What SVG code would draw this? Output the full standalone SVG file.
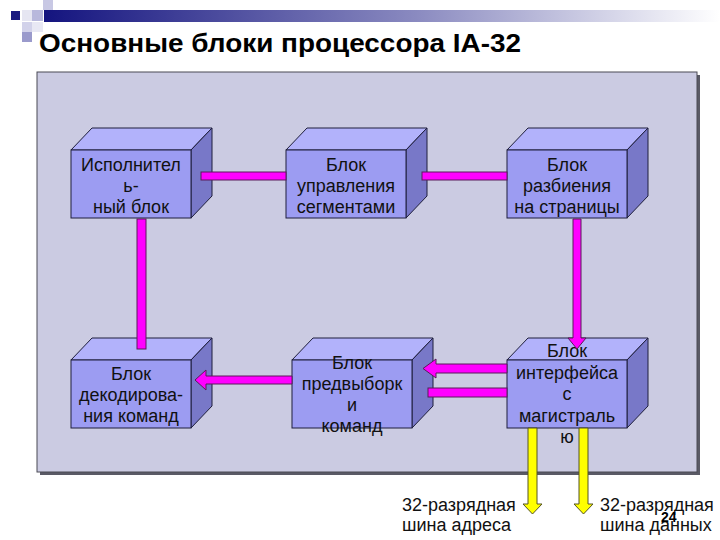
<svg xmlns="http://www.w3.org/2000/svg" width="720" height="540" viewBox="0 0 720 540">
<defs>
<linearGradient id="bar" x1="0" y1="0" x2="1" y2="0">
<stop offset="0" stop-color="#14147f"/>
<stop offset="0.55" stop-color="#8a8ac0"/>
<stop offset="1" stop-color="#ffffff"/>
</linearGradient>
<style>
.front{fill:#9c9cf2;stroke:#1e1e3c;stroke-width:1}
.top{fill:#b2b2fb;stroke:#1e1e3c;stroke-width:1}
.side{fill:#7878c8;stroke:#1e1e3c;stroke-width:1}
.t{font-family:"Liberation Sans",Arial,sans-serif;font-size:18px;fill:#111;text-anchor:middle}
.lab{font-family:"Liberation Sans",Arial,sans-serif;font-size:18px;fill:#111}
.mag{fill:#ff00ff;stroke:#5a1a5a;stroke-width:1}
.yel{fill:#ffff00;stroke:#555522;stroke-width:1}
</style>
</defs>
<rect width="720" height="540" fill="#ffffff"/>
<!-- header decoration -->
<rect x="44" y="10" width="676" height="12" fill="url(#bar)"/>
<rect x="11" y="11" width="9" height="9" fill="#1a1a80"/>
<rect x="22" y="10" width="10" height="11" fill="#e6e6f2"/>
<rect x="32" y="10" width="11" height="11" fill="#b8b8dc"/>
<rect x="43" y="0" width="10" height="10" fill="#c8c8e4"/>
<rect x="22" y="22" width="10" height="10" fill="#d2d2ea"/>
<rect x="32" y="22" width="11" height="10" fill="#e8e8f4"/>
<rect x="22" y="32" width="10" height="10" fill="#9a9acc"/>
<text x="39" y="52" font-family="&quot;Liberation Sans&quot;,Arial,sans-serif" font-size="26" font-weight="bold" fill="#000" textLength="482" lengthAdjust="spacingAndGlyphs">Основные блоки процессора IA-32</text>
<!-- panel -->
<rect x="40" y="75" width="660" height="400" fill="#5a5a66"/>
<rect x="37" y="72" width="660" height="400" fill="#cbcbe2" stroke="#4a4a55" stroke-width="1"/>
<!-- boxes -->
<g id="box1">
<polygon class="top" points="71,150 92,128 212,128 191,150"/>
<polygon class="side" points="191,150 212,128 212,196 191,218"/>
<rect class="front" x="71" y="150" width="120" height="68"/>
<text class="t" x="131" y="171">Исполнител</text>
<text class="t" x="131" y="192">ь-</text>
<text class="t" x="131" y="213">ный блок</text>
</g>
<g id="box2">
<polygon class="top" points="286,150 307,128 427,128 406,150"/>
<polygon class="side" points="406,150 427,128 427,196 406,218"/>
<rect class="front" x="286" y="150" width="120" height="68"/>
<text class="t" x="346" y="171">Блок</text>
<text class="t" x="346" y="192">управления</text>
<text class="t" x="346" y="213">сегментами</text>
</g>
<g id="box3">
<polygon class="top" points="507,150 528,128 648,128 627,150"/>
<polygon class="side" points="627,150 648,128 648,196 627,218"/>
<rect class="front" x="507" y="150" width="120" height="68"/>
<text class="t" x="567" y="171">Блок</text>
<text class="t" x="567" y="192">разбиения</text>
<text class="t" x="567" y="213">на страницы</text>
</g>
<g id="box4">
<polygon class="top" points="71,360 92,338 212,338 191,360"/>
<polygon class="side" points="191,360 212,338 212,406 191,428"/>
<rect class="front" x="71" y="360" width="120" height="68"/>
<text class="t" x="131" y="380">Блок</text>
<text class="t" x="131" y="401">декодирова-</text>
<text class="t" x="131" y="422">ния команд</text>
</g>
<g id="box5">
<polygon class="top" points="292,360 313,338 433,338 412,360"/>
<polygon class="side" points="412,360 433,338 433,406 412,428"/>
<rect class="front" x="292" y="360" width="120" height="68"/>
<text class="t" x="352" y="369">Блок</text>
<text class="t" x="352" y="390">предвыборк</text>
<text class="t" x="352" y="411">и</text>
<text class="t" x="352" y="432">команд</text>
</g>
<g id="box6">
<polygon class="top" points="507,360 528,338 648,338 627,360"/>
<polygon class="side" points="627,360 648,338 648,406 627,428"/>
<rect class="front" x="507" y="360" width="120" height="68"/>
<text class="t" x="567" y="357">Блок</text>
<text class="t" x="567" y="379">интерфейса</text>
<text class="t" x="567" y="400">с</text>
<text class="t" x="567" y="422">магистраль</text>
<text class="t" x="567" y="443">ю</text>
</g>
<!-- connectors -->
<g id="connectors">
<rect class="mag" x="201" y="172" width="85" height="8"/>
<rect class="mag" x="422" y="172" width="85" height="8"/>
<rect class="mag" x="137" y="219" width="9" height="130"/>
<polygon class="mag" points="573,219 581,219 581,338 586,338 577,349 568,338 573,338"/>
<polygon class="mag" points="507,364 436,364 436,359 423,368.5 436,378 436,373 507,373"/>
<rect class="mag" x="428" y="388" width="79" height="9"/>
<polygon class="mag" points="292,376 206,376 206,370 195,380 206,390 206,384 292,384"/>
<polygon class="yel" points="528,428 537,428 537,504 542,504 532.5,514 523,504 528,504"/>
<polygon class="yel" points="579,428 588,428 588,504 593,504 583.5,514 574,504 579,504"/>
</g>
<!-- labels -->
<text class="lab" x="402" y="511">32-разрядная</text>
<text class="lab" x="402" y="531">шина адреса</text>
<text class="lab" x="600" y="511">32-разрядная</text>
<text class="lab" x="600" y="531">шина данных</text>
<text x="661" y="522" font-family="&quot;Liberation Sans&quot;,Arial,sans-serif" font-size="14" font-weight="bold" fill="#000">24</text>
</svg>
